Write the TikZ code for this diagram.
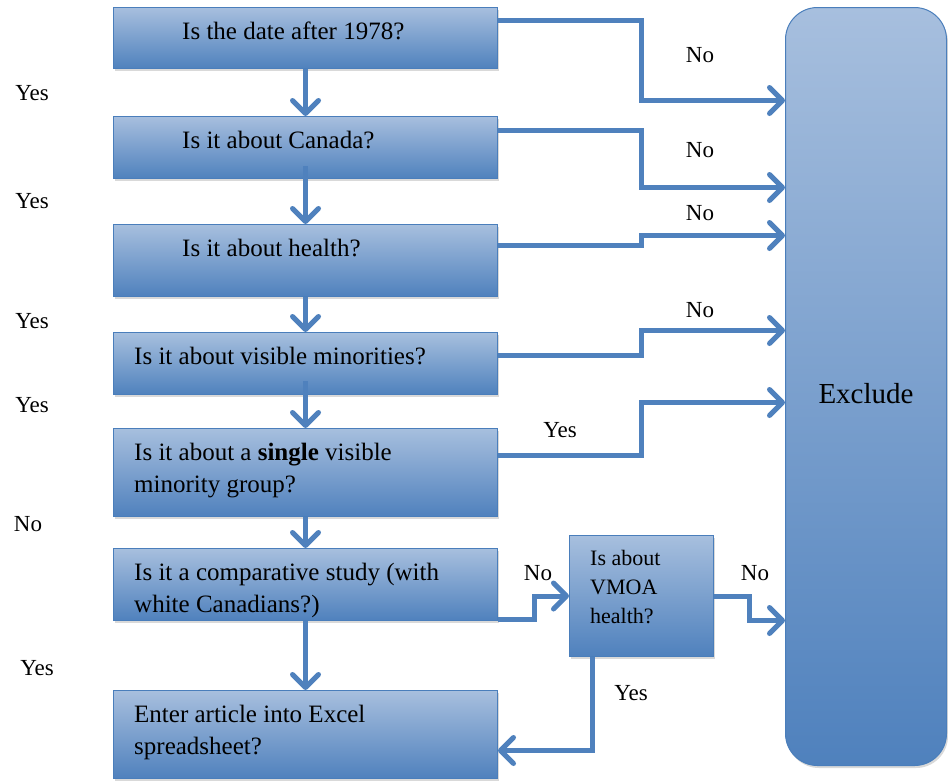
\documentclass[tikz,border=0pt]{standalone}
\usepackage{fontspec}
\setmainfont{Liberation Serif}
\usepackage{tikz}
\usetikzlibrary{shapes,arrows.meta,positioning,shadows}
\definecolor{flowblue}{RGB}{79,129,189}
\definecolor{paleblue}{RGB}{167,191,222}
\definecolor{rimblue}{RGB}{74,126,187}
\tikzset{%
	qnode/.style={rectangle, draw=rimblue, line width=1pt, top color=paleblue, bottom color=flowblue, minimum width=384pt, anchor=north west, inner sep=0pt, drop shadow={shadow xshift=1.5pt, shadow yshift=-2.5pt, opacity=0.3}},
	smallqnode/.style={qnode, minimum width=144pt, minimum height=121pt},
	exclnode/.style={rectangle, rounded corners=32pt, draw=rimblue, line width=1pt, top color=paleblue, bottom color=flowblue, minimum width=161pt, minimum height=758pt, anchor=north west, text height=34pt, font=\fontsize{29}{35}\selectfont, drop shadow={shadow xshift=1.5pt, shadow yshift=-2.5pt, opacity=0.3}},
	qtext/.style={inner sep=0pt, align=left, font=\fontsize{25}{32}\selectfont},
	smallqtext/.style={inner sep=0pt, align=left, font=\fontsize{22}{29}\selectfont},
	answer/.style={inner sep=0pt, font=\fontsize{23}{28}\selectfont},
	toflow/.style={draw=flowblue, line width=5pt, -{Straight Barb[length=13pt, width=26pt, round]}}}

\begin{document}
\begin{tikzpicture}[x=1pt, y=-1pt]
		\useasboundingbox (0,0) rectangle (948,780);
		
		% question boxes
		\node[qnode, minimum height=61pt] (Q1) at (113,7) {};
		\node[qnode, minimum height=62pt] (Q2) at (113,116) {};
		\node[qnode, minimum height=72pt] (Q3) at (113,224) {};
		\node[qnode, minimum height=62pt] (Q4) at (113,332) {};
		\node[qnode, minimum height=88pt] (Q5) at (113,428) {};
		\node[qnode, minimum height=72pt] (Q6) at (113,548) {};
		\node[qnode, minimum height=88pt] (Q7) at (113,690) {};
		\node[smallqnode] (VMOA) at (569,535) {};
		\node[exclnode] (EXCL) at (785,7) {Exclude};
		
		\node[qtext, below right=15pt and 69pt of Q1.north west] (T1) {Is the date after 1978?};
		\node[qtext, below right=15pt and 69pt of Q2.north west] (T2) {Is it about Canada?};
		\node[qtext, below right=15pt and 69pt of Q3.north west] (T3) {Is it about health?};
		\node[qtext, below right=15pt and 21pt of Q4.north west] (T4) {Is it about visible minorities?};
		\node[qtext, below right=15pt and 21pt of Q5.north west] (T5) {Is it about a \textbf{single} visible\\minority group?};
		\node[qtext, below right=15pt and 21pt of Q6.north west] (T6) {Is it a comparative study (with\\white Canadians?)};
		\node[qtext, below right=15pt and 21pt of Q7.north west] (T7) {Enter article into Excel\\spreadsheet?};
		\node[smallqtext, below right=15pt and 21pt of VMOA.north west] (TV) {Is about\\VMOA\\health?};
		
		% answers
		\node[answer] (Y1) at (32,93) {Yes};
		\node[answer] (Y2) at (32,201) {Yes};
		\node[answer] (Y3) at (32,321) {Yes};
		\node[answer] (Y4) at (32,405) {Yes};
		\node[answer] (N5) at (28,524) {No};
		\node[answer] (Y6) at (37,668) {Yes};
		\node[answer] (N1) at (700,55) {No};
		\node[answer] (N2) at (700,150) {No};
		\node[answer] (N3) at (700,213) {No};
		\node[answer] (N4) at (700,310) {No};
		\node[answer] (Y5) at (560,430) {Yes};
		\node[answer] (N6) at (538,573) {No};
		\node[answer] (NV) at (755,573) {No};
		\node[answer] (YV) at (631,693) {Yes};
		
		\path[toflow] (Q1) edge (Q2);
		\draw[toflow] ([yshift=13pt]Q2.south) -- (Q3.north);
		\path[toflow] (Q3) edge (Q4);
		\draw[toflow] ([yshift=14pt]Q4.south) -- (Q5.north);
		\path[toflow] (Q5) edge (Q6);
		\path[toflow] (Q6) edge (Q7);
		
		\draw[toflow] ([yshift=17.5pt]Q1.east) -- ++(143,0) |- ([yshift=286pt]EXCL.west);
		\draw[toflow] ([yshift=17pt]Q2.east) -- ++(143,0) |- ([yshift=199pt]EXCL.west);
		\draw[toflow] ([yshift=15pt]Q3.east) -- ++(143,0) |- ([yshift=151pt]EXCL.west);
		\draw[toflow] ([yshift=8pt]Q4.east) -- ++(143,0) |- ([yshift=56pt]EXCL.west);
		\draw[toflow] ([yshift=17pt]Q5.east) -- ++(143,0) |- ([yshift=-16pt]EXCL.west);
		\draw[toflow] ([yshift=-35pt]Q6.east) -- ++(36,0) |- (VMOA.west);
		\draw[toflow] (VMOA.east) -- ++(35,0) |- ([yshift=-234pt]EXCL.west);
		\draw[toflow] ([xshift=-49pt]VMOA.south) |- ([yshift=-16pt]Q7.east);
	\end{tikzpicture}
\end{document}
